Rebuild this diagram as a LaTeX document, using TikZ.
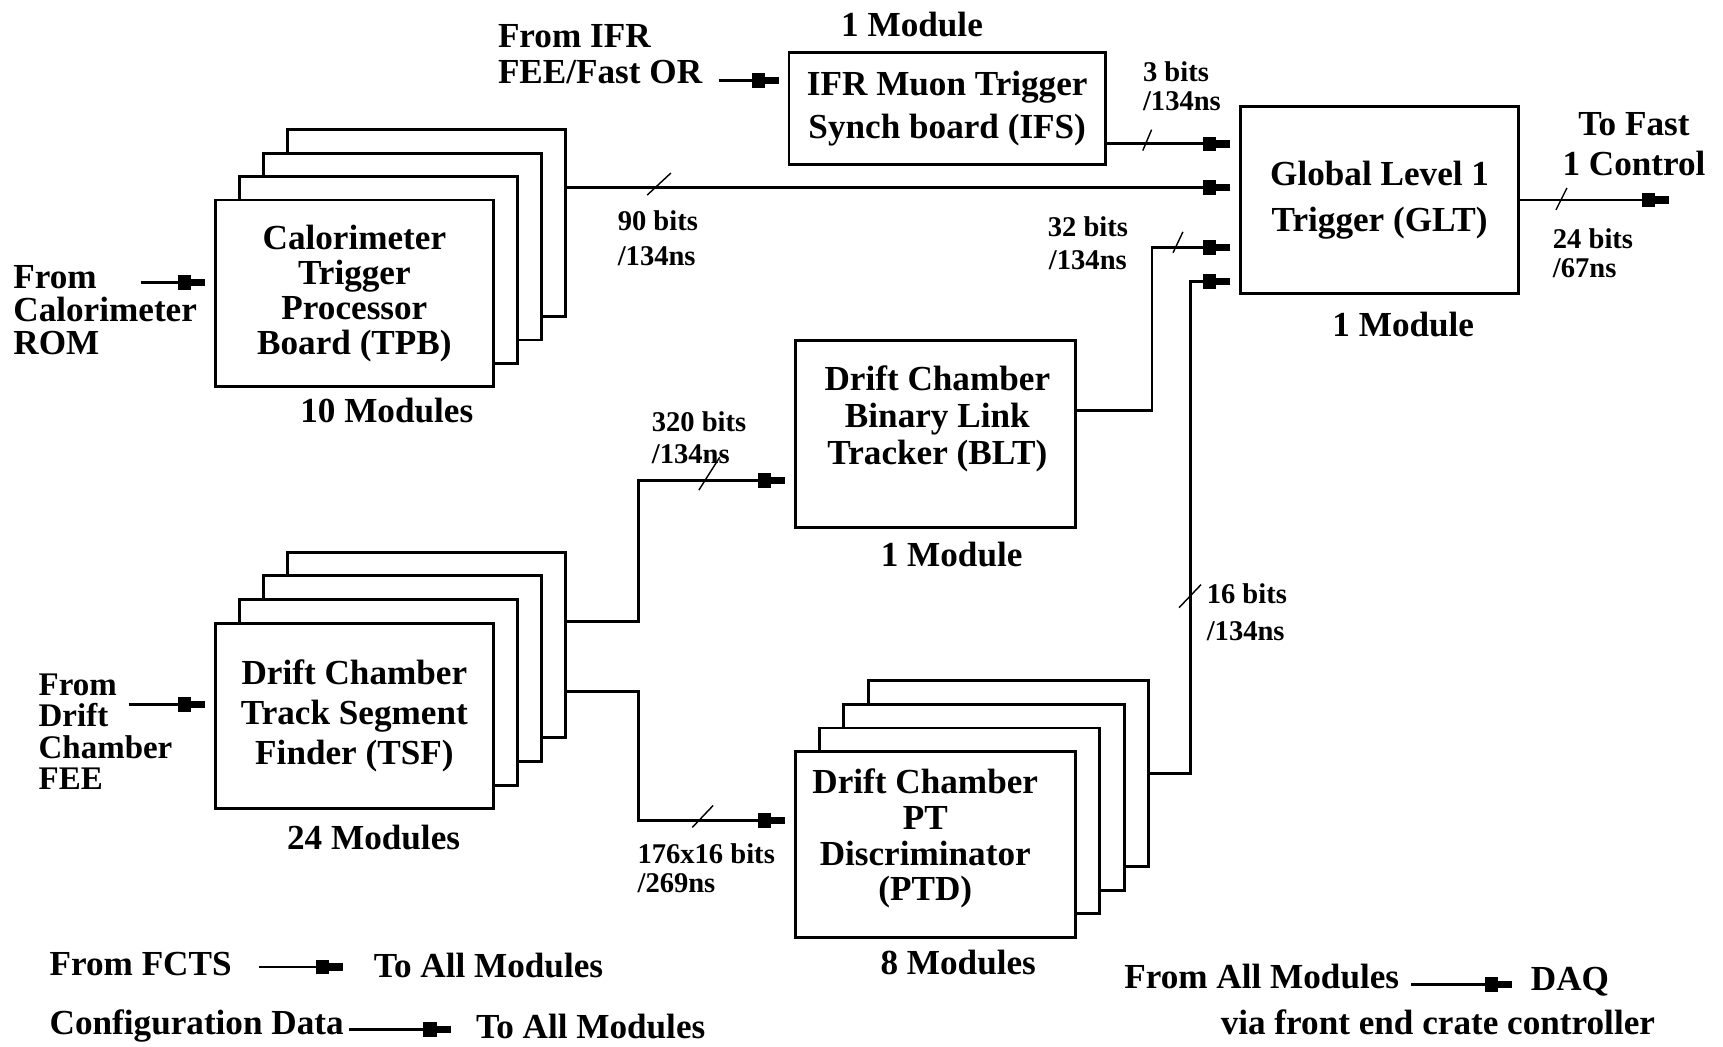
\documentclass[tikz,border=0pt]{standalone}
\usepackage{fontspec}
\setmainfont{Liberation Serif}
\usetikzlibrary{arrows.meta}
\newcommand\myBig[1]{\fontsize{32}{#1}\selectfont\bfseries}
\newcommand\mySmall[1]{\fontsize{26}{#1}\selectfont\bfseries}
\tikzset{
  boxs/.style={draw, line width=2.7pt, fill=white, minimum width=253pt, minimum height=170pt,
    inner sep=0pt, align=center, font=\myBig{32}},
  big/.style={inner sep=0pt, font=\myBig{33}},
  lbl/.style={inner sep=0pt, align=left},
  arr/.style={line width=2.7pt, -{Rectangle[length=12pt,width=13.5pt]Rectangle[length=12.7pt,width=6.5pt]}, shorten >=8pt},
  tick/.style={line width=1.3pt}
}
\begin{document}
\begin{tikzpicture}[x=1pt,y=-1pt]
\useasboundingbox (0,0) rectangle (1568,952);
\fill[white] (0,0) rectangle (1568,952);

% ---------- IFS ----------
\node[big, align=left, anchor=west] (ifrin) at (453,49.5) {From IFR\\FEE/Fast OR};
\node[big] (ifsmod) at (830,22) {1 Module};
\node[boxs, minimum width=288pt, minimum height=102pt, font=\myBig{39}] (ifs) at (862,99) {IFR Muon Trigger\\Synch board (IFS)};

% ---------- GLT ----------
\node[boxs, font=\myBig{42}] (glt) at (1255.5,182) {Global Level 1\\Trigger (GLT)};
\node[big] (gltmod) at (1277,295) {1 Module};
\node[big, align=center, font=\myBig{36}] (tofast) at (1487,131) {To Fast\\1 Control};
\node[lbl, anchor=west, font=\mySmall{27}] (b24) at (1413,230.5) {24 bits\\/67ns};
\node[lbl, anchor=west, font=\mySmall{27}] (b3) at (1040,78.5) {3 bits\\/134ns};

% ---------- TPB stack ----------
\foreach \i in {3,2,1}
  \node[boxs] (tpb\i) at (322.5+22*\i, 267-21.3*\i) {};
\node[boxs] (tpb) at (322.5,267) {Calorimeter\\Trigger\\Processor\\Board (TPB)};
\node[big] (tpbmod) at (352,374) {10 Modules};
\node[big, align=left, anchor=west, font=\myBig{30}] (calin) at (12,282) {From\\Calorimeter\\ROM};
\node[lbl, anchor=west, font=\mySmall{32}] (b90) at (562,217) {90 bits\\/134ns};

% ---------- BLT ----------
\node[boxs, minimum width=255pt] (blt) at (851.5,395) {};
\node[inner sep=0pt, align=center, font=\myBig{33.5}] (blttxt) at (853,381) {Drift Chamber\\Binary Link\\Tracker (BLT)};
\node[big] (bltmod) at (866,505) {1 Module};
\node[lbl, align=center, font=\mySmall{30}] (b32) at (990,221) {32 bits\\/134ns};
\node[lbl, anchor=west, font=\mySmall{34}] (b16) at (1098,557) {16 bits\\/134ns};

% ---------- TSF stack ----------
\foreach \i in {3,2,1}
  \node[boxs, minimum height=169pt] (tsf\i) at (322.5+22*\i, 651.5-21.5*\i) {};
\node[boxs, minimum height=169pt, font=\myBig{36.5}] (tsf) at (322.5,651.5) {Drift Chamber\\Track Segment\\Finder (TSF)};
\node[big] (tsfmod) at (340,762) {24 Modules};
\node[big, align=left, anchor=west, font={\fontsize{30}{28.5}\selectfont\bfseries}] (dcin) at (35,666) {From\\Drift\\Chamber\\FEE};
\node[lbl, anchor=west, font=\mySmall{29}] (b320) at (593,398.5) {320 bits\\/134ns};
\node[lbl, anchor=west, font=\mySmall{26}] (b176) at (580,790) {176x16 bits\\/269ns};

% ---------- PTD stack ----------
\foreach \i in {3,2,1}
  \node[boxs, minimum width=255pt, minimum height=169pt] (ptd\i) at (851.5+22*\i, 768.5-21.5*\i) {};
\node[boxs, minimum width=255pt, minimum height=169pt] (ptd) at (851.5,768.5) {};
\node[inner sep=0pt, align=center, font=\myBig{32.7}] (ptdtxt) at (842,763) {Drift Chamber\\PT\\Discriminator\\(PTD)};
\node[big] (ptdmod) at (872,876) {8 Modules};

% ---------- legend ----------
\node[big, anchor=west] (fcts) at (45,877) {From FCTS};
\node[big, anchor=west] (all1) at (340,879) {To All Modules};
\node[big, anchor=west] (cfg) at (45,934) {Configuration Data};
\node[big, anchor=west] (all2) at (433,934) {To All Modules};
\node[big, anchor=west] (fam) at (1023,889) {From All Modules};
\node[big, anchor=west] (daq) at (1393,893) {DAQ};
\node[big] (via) at (1308.5,930) {via front end crate controller};

% ---------- connectors ----------
\coordinate (ifra) at (654,73);
\coordinate (cala) at (128,257);
\coordinate (dca) at (117,641);
\coordinate (fast) at (1527,182);
\coordinate (gin1) at ([yshift=51pt]glt.west);
\coordinate (gin2) at ([yshift=11pt]glt.west);
\coordinate (gin3) at ([yshift=-43pt]glt.west);
\coordinate (gin4) at ([yshift=-74pt]glt.west);

\draw[arr] (ifra) -- (ifs.west |- ifra);
\draw[arr] (cala) -- (tpb.west |- cala);
\draw[arr] (dca) -- (tsf.west |- dca);
\draw[arr] (ifs.east |- gin1) -- (gin1);
\draw[arr] (tpb3.east |- gin2) -- (gin2);
\draw[arr] ([yshift=21pt]blt.east) -- ++(68,0) |- (gin3);
\draw[arr] (ptd3.east) -- ++(37,0) |- (gin4);
\draw[arr] ([yshift=21.5pt]tsf3.east) -- ++(65,0) |- ([yshift=-42pt]blt.west);
\draw[arr] ([yshift=-42.5pt]tsf3.east) -- ++(65,0) |- ([yshift=21.5pt]ptd.west);
\draw[arr] (glt.east) -- (fast);

\draw[arr, shorten >=0pt] ([xshift=25pt,yshift=-3pt]fcts.east) -- ([xshift=-28pt,yshift=-1pt]all1.west);
\draw[arr, shorten >=0pt] ([xshift=5pt,yshift=-3pt]cfg.east) -- ([xshift=-23pt,yshift=-3pt]all2.west);
\draw[arr, shorten >=0pt] ([xshift=11pt,yshift=-7pt]fam.east) -- ([xshift=-17pt,yshift=-3pt]daq.west);

% ---------- bus-width ticks ----------
\draw[tick] (589,177.5) -- (610.5,157.5);
\draw[tick] (1040,137) -- (1048,118);
\draw[tick] (1067.5,230) -- (1076.5,211);
\draw[tick] (1073,553) -- (1093,532);
\draw[tick] (1416,191) -- (1426,171);
\draw[tick] (636,446) -- (655,416);
\draw[tick] (630,753) -- (649,733);
\end{tikzpicture}
\end{document}
